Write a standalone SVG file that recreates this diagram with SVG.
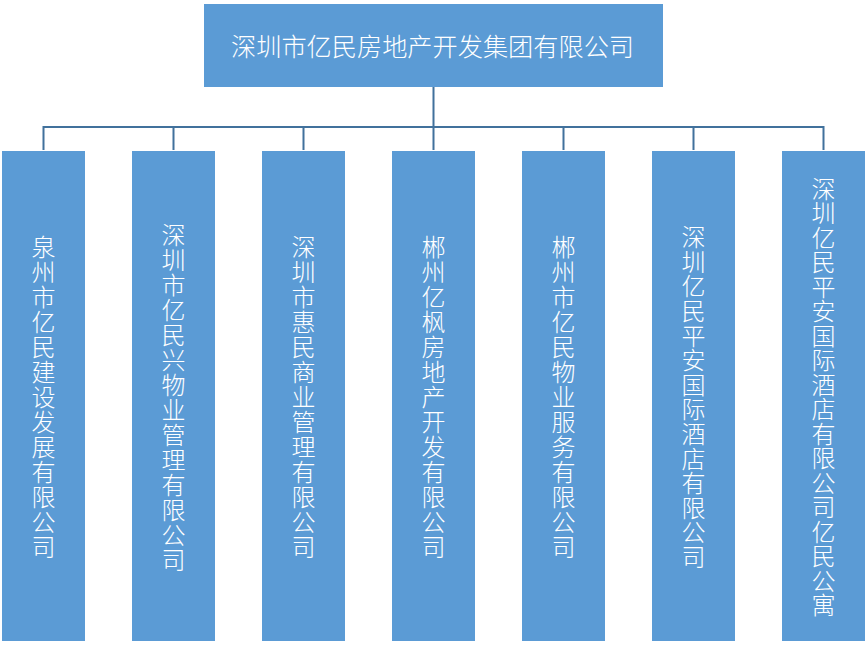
<svg xmlns="http://www.w3.org/2000/svg" width="868" height="653" viewBox="0 0 868 653">
<style>
.box{fill:#5B9BD5;}
.t{font-family:"Noto Sans CJK SC","Noto Sans CJK JP",sans-serif;font-size:24px;font-weight:300;fill:#FFFFFF;text-anchor:middle;dominant-baseline:central;}
.c{stroke:#41719C;stroke-width:2;fill:none;}
</style>
<rect width="868" height="653" fill="#FFFFFF"/>
<g id="connectors">
<path class="c" d="M433.5 87 V127 M43.5 127 H823.5 M43.5 126 V150 M173.5 127 V150 M303.5 127 V150 M433.5 127 V150 M563.5 127 V150 M693.5 127 V150 M823.5 126 V150"/>
</g>
<g id="root">
<rect class="box" x="204" y="4" width="459" height="83"/>
<text class="t" x="432.5" y="44.5" style="font-size:25.2px">深圳市亿民房地产开发集团有限公司</text>
</g>
<g id="n1">
<rect class="box" x="2" y="151" width="83" height="490"/>
<text class="t" x="43.5 43.5 43.5 43.5 43.5 43.5 43.5 43.5 43.5 43.5 43.5 43.5 43.5" y="245.5 270.5 295.5 320.5 345.5 370.5 395.5 420.5 445.5 470.5 495.5 520.5 545.5">泉州市亿民建设发展有限公司</text>
</g>
<g id="n2">
<rect class="box" x="132" y="151" width="83" height="490"/>
<text class="t" x="173.5 173.5 173.5 173.5 173.5 173.5 173.5 173.5 173.5 173.5 173.5 173.5 173.5 173.5" y="233 258 283 308 333 358 383 408 433 458 483 508 533 558">深圳市亿民兴物业管理有限公司</text>
</g>
<g id="n3">
<rect class="box" x="262" y="151" width="83" height="490"/>
<text class="t" x="303.5 303.5 303.5 303.5 303.5 303.5 303.5 303.5 303.5 303.5 303.5 303.5 303.5" y="245.5 270.5 295.5 320.5 345.5 370.5 395.5 420.5 445.5 470.5 495.5 520.5 545.5">深圳市惠民商业管理有限公司</text>
</g>
<g id="n4">
<rect class="box" x="392" y="151" width="83" height="490"/>
<text class="t" x="433.5 433.5 433.5 433.5 433.5 433.5 433.5 433.5 433.5 433.5 433.5 433.5 433.5" y="245.5 270.5 295.5 320.5 345.5 370.5 395.5 420.5 445.5 470.5 495.5 520.5 545.5">郴州亿枫房地产开发有限公司</text>
</g>
<g id="n5">
<rect class="box" x="522" y="151" width="83" height="490"/>
<text class="t" x="563.5 563.5 563.5 563.5 563.5 563.5 563.5 563.5 563.5 563.5 563.5 563.5 563.5" y="245.5 270.5 295.5 320.5 345.5 370.5 395.5 420.5 445.5 470.5 495.5 520.5 545.5">郴州市亿民物业服务有限公司</text>
</g>
<g id="n6">
<rect class="box" x="652" y="151" width="83" height="490"/>
<text class="t" x="693.5 693.5 693.5 693.5 693.5 693.5 693.5 693.5 693.5 693.5 693.5 693.5 693.5 693.5" y="235.6 260.2 284.8 309.4 334 358.6 383.2 407.8 432.4 457 481.6 506.2 530.8 555.4">深圳亿民平安国际酒店有限公司</text>
</g>
<g id="n7">
<rect class="box" x="782" y="151" width="83" height="490"/>
<text class="t" x="823.5 823.5 823.5 823.5 823.5 823.5 823.5 823.5 823.5 823.5 823.5 823.5 823.5 823.5 823.5 823.5 823.5 823.5" y="187.25 211.75 236.25 260.75 285.25 309.75 334.25 358.75 383.25 407.75 432.25 456.75 481.25 505.75 530.25 554.75 579.25 603.75">深圳亿民平安国际酒店有限公司亿民公寓</text>
</g>
</svg>
